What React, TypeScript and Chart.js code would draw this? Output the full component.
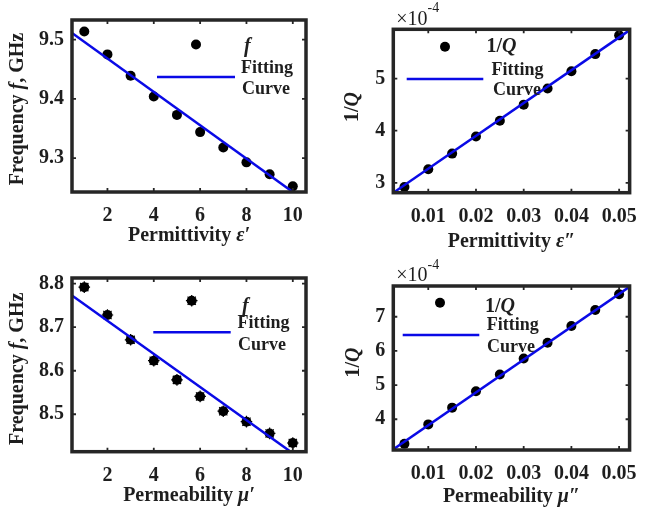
import React, { useEffect, useRef } from 'react';
import { Chart, registerables } from 'chart.js';

Chart.register(...registerables);

// ---------- data ----------
const EPS_REAL = [1, 2, 3, 4, 5, 6, 7, 8, 9, 10];
const FREQ_EPS = [9.5136, 9.475, 9.439, 9.404, 9.373, 9.344, 9.318, 9.293, 9.273, 9.2525];
const FIT_EPS_X = [0.47, 10.0];
const FIT_EPS_Y = [9.511, 9.243];
const X_RANGE_1 = [0.47, 10.57];
const Y_RANGE_1 = [9.243, 9.533];
const X_TICKS_1 = [2, 4, 6, 8, 10];
const Y_TICKS_1 = [9.3, 9.4, 9.5];

const EPS_IMAG = [0.005, 0.01, 0.015, 0.02, 0.025, 0.03, 0.035, 0.04, 0.045, 0.05];
const INVQ_EPS = [2.92, 3.26, 3.56, 3.89, 4.19, 4.5, 4.81, 5.14, 5.47, 5.83]; // x 1e-4
const FIT_EPSI_X = [0.00267, 0.0522];
const FIT_EPSI_Y = [2.81, 5.93];
const X_RANGE_2 = [0.00267, 0.0522];
const Y_RANGE_2 = [2.81, 5.946];
const X_TICKS_2 = [0.01, 0.02, 0.03, 0.04, 0.05];
const Y_TICKS_2 = [3, 4, 5];

const MU_REAL = [1, 2, 3, 4, 5, 6, 7, 8, 9, 10];
const FREQ_MU = [8.792, 8.728, 8.671, 8.623, 8.579, 8.541, 8.507, 8.483, 8.456, 8.434];
const FIT_MU_X = [0.47, 9.85];
const FIT_MU_Y = [8.773, 8.416];
const X_RANGE_3 = [0.47, 10.57];
const Y_RANGE_3 = [8.414, 8.813];
const X_TICKS_3 = [2, 4, 6, 8, 10];
const Y_TICKS_3 = [8.5, 8.6, 8.7, 8.8];

const MU_IMAG = [0.005, 0.01, 0.015, 0.02, 0.025, 0.03, 0.035, 0.04, 0.045, 0.05];
const INVQ_MU = [3.28, 3.85, 4.34, 4.82, 5.31, 5.78, 6.24, 6.73, 7.2, 7.66]; // x 1e-4
const FIT_MUI_X = [0.00267, 0.0522];
const FIT_MUI_Y = [3.12, 7.88];
const X_RANGE_4 = [0.00267, 0.0522];
const Y_RANGE_4 = [3.1, 7.9];
const X_TICKS_4 = [0.01, 0.02, 0.03, 0.04, 0.05];
const Y_TICKS_4 = [4, 5, 6, 7];

// ---------- styles ----------
const SERIF = '"Liberation Serif", "Times New Roman", serif';
const AXIS_COLOR = '#262626';
const TEXT_COLOR = '#1e1e1e';
const LINE_COLOR = '#0a0ae6';

type Part = { t: string; it?: boolean; sup?: boolean; reg?: boolean };

function fontOf(p: Part, size: number) {
  const s = p.sup ? Math.round(size * 0.72) : size;
  return `${p.it ? 'italic ' : ''}${p.reg ? '' : 'bold '}${s}px ${SERIF}`;
}

function drawRich(ctx: CanvasRenderingContext2D, parts: Part[], x: number, y: number, size: number, rot: number, align: 'center' | 'left') {
  ctx.save();
  ctx.translate(x, y);
  ctx.rotate(rot);
  ctx.textBaseline = 'middle';
  ctx.textAlign = 'left';
  ctx.fillStyle = TEXT_COLOR;
  const widths = parts.map((p) => {
    ctx.font = fontOf(p, size);
    return ctx.measureText(p.t).width;
  });
  const total = widths.reduce((a, b) => a + b, 0);
  let cx = align === 'center' ? -total / 2 : 0;
  parts.forEach((p, i) => {
    ctx.font = fontOf(p, size);
    ctx.fillText(p.t, cx, p.sup ? -size * 0.55 : 0);
    cx += widths[i];
  });
  ctx.restore();
}

function drawMarker(ctx: CanvasRenderingContext2D, x: number, y: number, star: boolean) {
  ctx.save();
  ctx.fillStyle = '#000';
  ctx.beginPath();
  ctx.arc(x, y, 5, 0, Math.PI * 2);
  ctx.fill();
  if (star) {
    ctx.strokeStyle = '#000';
    ctx.lineWidth = 1.2;
    ctx.beginPath();
    for (let k = 0; k < 4; k++) {
      const a = (k * Math.PI) / 4;
      ctx.moveTo(x - Math.cos(a) * 5.8, y - Math.sin(a) * 5.8);
      ctx.lineTo(x + Math.cos(a) * 5.8, y + Math.sin(a) * 5.8);
    }
    ctx.stroke();
  }
  ctx.restore();
}

type PanelCfg = {
  left: number; top: number; w: number; h: number;
  area: { l: number; t: number; r: number; b: number };
  xs: number[]; ys: number[]; fitX: number[]; fitY: number[];
  xRange: number[]; yRange: number[]; xTicks: number[]; yTicks: number[];
  xDec: number; yDec: number;
  xTitle: Part[]; yTitle: Part[]; yTitleX: number; yTitleDy: number; xTitleY: number;
  legendName: Part[]; star: boolean; exponent: boolean;
  leg: { mx: number; my: number; nx: number; ny: number; lx0: number; lx1: number; ly: number; fx: number; fy: number; cx: number; cy: number };
};

const PANELS: PanelCfg[] = [
  {
    left: 0, top: 0, w: 325, h: 258,
    area: { l: 72, t: 14, r: 306, b: 192 },
    xs: EPS_REAL, ys: FREQ_EPS, fitX: FIT_EPS_X, fitY: FIT_EPS_Y,
    xRange: X_RANGE_1, yRange: Y_RANGE_1, xTicks: X_TICKS_1, yTicks: Y_TICKS_1, xDec: 0, yDec: 1,
    xTitle: [{ t: 'Permittivity ' }, { t: 'ε′', it: true }],
    yTitle: [{ t: 'Frequency ' }, { t: 'f', it: true }, { t: ', GHz' }],
    yTitleX: 18, yTitleDy: 3, xTitleY: 236,
    legendName: [{ t: 'f', it: true }], star: false, exponent: false,
    leg: { mx: 196, my: 44.5, nx: 244, ny: 47, lx0: 157, lx1: 235, ly: 77, fx: 241, fy: 68, cx: 242, cy: 89 },
  },
  {
    left: 325, top: 0, w: 324, h: 258,
    area: { l: 68.3, t: 29.3, r: 316, b: 192.7 },
    xs: EPS_IMAG, ys: INVQ_EPS, fitX: FIT_EPSI_X, fitY: FIT_EPSI_Y,
    xRange: X_RANGE_2, yRange: Y_RANGE_2, xTicks: X_TICKS_2, yTicks: Y_TICKS_2, xDec: 2, yDec: 0,
    xTitle: [{ t: 'Permittivity ' }, { t: 'ε″', it: true }],
    yTitle: [{ t: '1/' }, { t: 'Q', it: true }],
    yTitleX: 27.5, yTitleDy: -4, xTitleY: 241.5,
    legendName: [{ t: '1/' }, { t: 'Q', it: true }], star: false, exponent: true,
    leg: { mx: 120, my: 46.7, nx: 161.5, ny: 46.7, lx0: 81.7, lx1: 158.3, ly: 79, fx: 166.5, fy: 70, cx: 168, cy: 90.5 },
  },
  {
    left: 0, top: 258, w: 325, h: 257,
    area: { l: 72, t: 16, r: 306, b: 193.7 },
    xs: MU_REAL, ys: FREQ_MU, fitX: FIT_MU_X, fitY: FIT_MU_Y,
    xRange: X_RANGE_3, yRange: Y_RANGE_3, xTicks: X_TICKS_3, yTicks: Y_TICKS_3, xDec: 0, yDec: 1,
    xTitle: [{ t: 'Permeability ' }, { t: 'μ′', it: true }],
    yTitle: [{ t: 'Frequency ' }, { t: 'f', it: true }, { t: ', GHz' }],
    yTitleX: 18, yTitleDy: 4, xTitleY: 237.7,
    legendName: [{ t: 'f', it: true }], star: true, exponent: false,
    leg: { mx: 191.7, my: 42.7, nx: 242, ny: 48.7, lx0: 153.3, lx1: 230.7, ly: 74.3, fx: 237.5, fy: 65.3, cx: 238, cy: 87 },
  },
  {
    left: 325, top: 258, w: 324, h: 257,
    area: { l: 68.3, t: 28, r: 315, b: 192 },
    xs: MU_IMAG, ys: INVQ_MU, fitX: FIT_MUI_X, fitY: FIT_MUI_Y,
    xRange: X_RANGE_4, yRange: Y_RANGE_4, xTicks: X_TICKS_4, yTicks: Y_TICKS_4, xDec: 2, yDec: 0,
    xTitle: [{ t: 'Permeability ' }, { t: 'μ″', it: true }],
    yTitle: [{ t: '1/' }, { t: 'Q', it: true }],
    yTitleX: 29, yTitleDy: -5.5, xTitleY: 239.3,
    legendName: [{ t: '1/' }, { t: 'Q', it: true }], star: false, exponent: true,
    leg: { mx: 115, my: 44.7, nx: 160, ny: 48.7, lx0: 77.7, lx1: 154.3, ly: 77, fx: 161.7, fy: 67.7, cx: 162, cy: 89.3 },
  },
];

function Panel({ cfg }: { cfg: PanelCfg }) {
  const ref = useRef<HTMLCanvasElement | null>(null);

  useEffect(() => {
    const canvas = ref.current;
    if (!canvas) return;
    const a = cfg.area;

    const framePlugin = {
      id: 'frame' + cfg.left + cfg.top,
      afterDatasetsDraw(chart: any) {
        const ctx: CanvasRenderingContext2D = chart.ctx;
        const ca = chart.chartArea;
        const xs = chart.scales.x;
        const ys = chart.scales.y;
        ctx.save();
        ctx.strokeStyle = AXIS_COLOR;
        ctx.lineWidth = 1.8;
        const TL = 4;
        ctx.beginPath();
        xs.ticks.forEach((t: any) => {
          const px = xs.getPixelForValue(t.value);
          ctx.moveTo(px, ca.bottom);
          ctx.lineTo(px, ca.bottom - TL);
          ctx.moveTo(px, ca.top);
          ctx.lineTo(px, ca.top + TL);
        });
        ys.ticks.forEach((t: any) => {
          const py = ys.getPixelForValue(t.value);
          ctx.moveTo(ca.left, py);
          ctx.lineTo(ca.left + TL, py);
          ctx.moveTo(ca.right, py);
          ctx.lineTo(ca.right - TL, py);
        });
        ctx.stroke();
        ctx.lineWidth = 3.5;
        ctx.strokeRect(ca.left, ca.top, ca.right - ca.left, ca.bottom - ca.top);
        ctx.restore();
      },
      afterDraw(chart: any) {
        const ctx: CanvasRenderingContext2D = chart.ctx;
        const ca = chart.chartArea;
        drawRich(ctx, cfg.xTitle, (ca.left + ca.right) / 2, cfg.xTitleY, 20, 0, 'center');
        drawRich(ctx, cfg.yTitle, cfg.yTitleX, (ca.top + ca.bottom) / 2 + cfg.yTitleDy, 20, -Math.PI / 2, 'center');
        if (cfg.exponent) {
          drawRich(ctx, [{ t: '×10', reg: true }, { t: '-4', reg: true, sup: true }], ca.left + 3, ca.top - 10, 20, 0, 'left');
        }
        const L = cfg.leg;
        drawMarker(ctx, L.mx, L.my, cfg.star);
        drawRich(ctx, cfg.legendName, L.nx, L.ny, 20, 0, 'left');
        ctx.save();
        ctx.strokeStyle = LINE_COLOR;
        ctx.lineWidth = 2.5;
        ctx.beginPath();
        ctx.moveTo(L.lx0, L.ly);
        ctx.lineTo(L.lx1, L.ly);
        ctx.stroke();
        ctx.restore();
        drawRich(ctx, [{ t: 'Fitting' }], L.fx, L.fy, 18, 0, 'left');
        drawRich(ctx, [{ t: 'Curve' }], L.cx, L.cy, 18, 0, 'left');
      },
    };

    const datasets: any[] = [
      {
        type: 'line',
        data: cfg.fitX.map((x, i) => ({ x, y: cfg.fitY[i] })),
        borderColor: LINE_COLOR,
        borderWidth: 2.5,
        pointRadius: 0,
        showLine: true,
        fill: false,
        order: 0,
      },
      {
        type: 'scatter',
        data: cfg.xs.map((x, i) => ({ x, y: cfg.ys[i] })),
        pointStyle: 'circle',
        pointRadius: 5,
        backgroundColor: '#000',
        borderColor: '#000',
        borderWidth: 0,
        clip: false,
        order: 2,
      },
    ];
    if (cfg.star) {
      datasets.push({
        type: 'scatter',
        data: cfg.xs.map((x, i) => ({ x, y: cfg.ys[i] })),
        pointStyle: 'star',
        pointRadius: 5.8,
        backgroundColor: '#000',
        borderColor: '#000',
        borderWidth: 1.2,
        clip: false,
        order: 1,
      });
    }

    const tickFont = { family: SERIF, size: 20, weight: 'bold' as const };

    const chart = new Chart(canvas, {
      type: 'scatter',
      data: { datasets },
      options: {
        responsive: false,
        animation: false,
        events: [],
        layout: { padding: { left: 0, top: a.t, right: cfg.w - a.r, bottom: 0 } },
        plugins: { legend: { display: false }, tooltip: { enabled: false } },
        scales: {
          x: {
            type: 'linear',
            min: cfg.xRange[0],
            max: cfg.xRange[1],
            grid: { display: false, drawTicks: false },
            border: { display: false },
            afterBuildTicks: (s: any) => { s.ticks = cfg.xTicks.map((v) => ({ value: v })); },
            afterFit: (s: any) => { s.height = cfg.h - a.b; },
            ticks: {
              font: tickFont,
              color: TEXT_COLOR,
              padding: 12,
              maxRotation: 0,
              autoSkip: false,
              callback: (v: any) => Number(v).toFixed(cfg.xDec),
            },
          },
          y: {
            type: 'linear',
            min: cfg.yRange[0],
            max: cfg.yRange[1],
            grid: { display: false, drawTicks: false },
            border: { display: false },
            afterBuildTicks: (s: any) => { s.ticks = cfg.yTicks.map((v) => ({ value: v })); },
            afterFit: (s: any) => { s.width = a.l; },
            ticks: {
              font: tickFont,
              color: TEXT_COLOR,
              padding: 8,
              autoSkip: false,
              callback: (v: any) => Number(v).toFixed(cfg.yDec),
            },
          },
        },
      },
      plugins: [framePlugin],
    } as any);

    return () => chart.destroy();
  }, [cfg]);

  return (
    <canvas
      ref={ref}
      width={cfg.w}
      height={cfg.h}
      style={{ position: 'absolute', left: cfg.left, top: cfg.top, width: cfg.w, height: cfg.h }}
    />
  );
}

export default function App() {
  return (
    <div style={{ position: 'fixed', left: 0, top: 0, width: 649, height: 515, background: '#fff', overflow: 'hidden' }}>
      {PANELS.map((p, i) => (
        <Panel key={i} cfg={p} />
      ))}
    </div>
  );
}
